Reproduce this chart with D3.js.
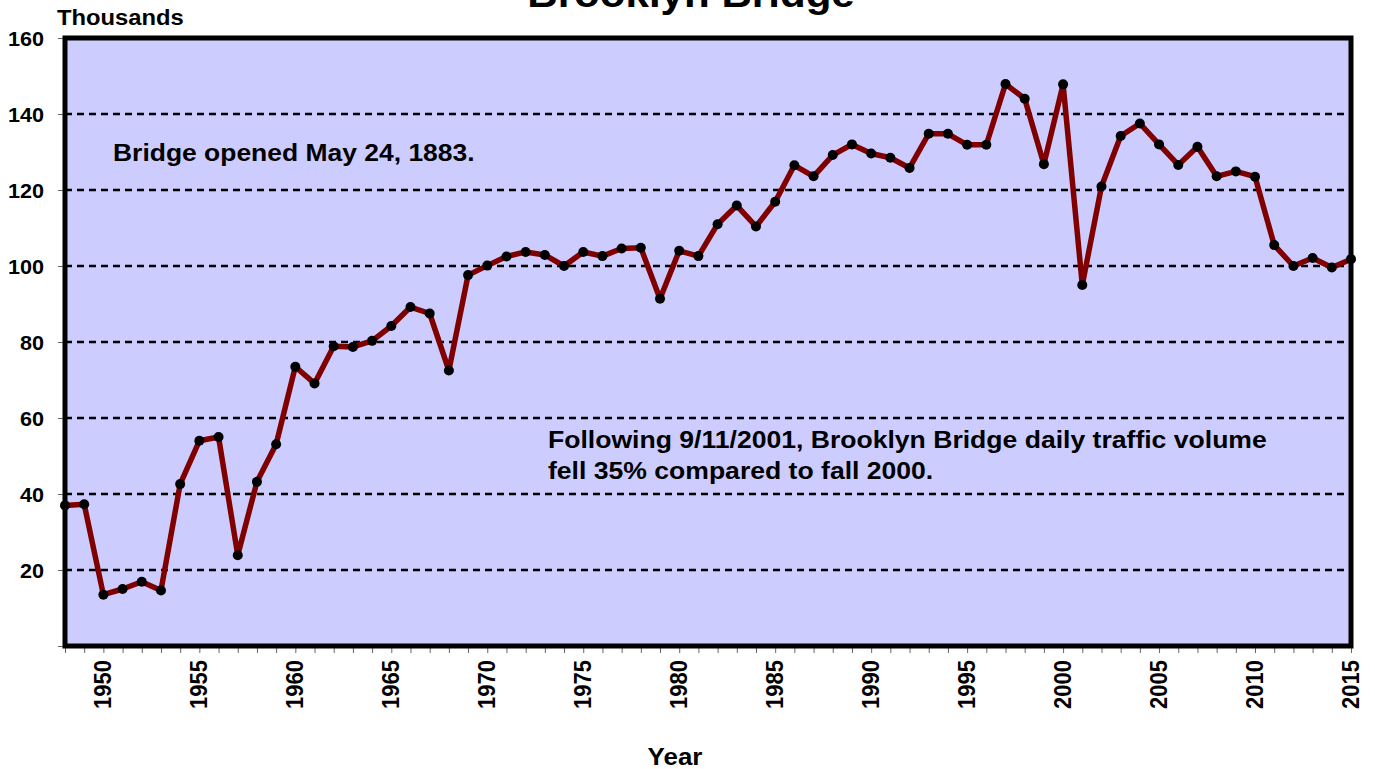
<!DOCTYPE html>
<html>
<head>
<meta charset="utf-8">
<script src="https://cdn.jsdelivr.net/npm/d3@7"></script>
<style>
  html, body { margin: 0; padding: 0; background: #ffffff; }
  svg { display: block; }
  text { font-family: "Liberation Sans", Arial, Helvetica, sans-serif; font-weight: bold; fill: #000; }
</style>
</head>
<body>
<div id="chart"></div>
<script>
// Brooklyn Bridge average daily traffic, in thousands of vehicles
const years = [
  1948, 1949, 1950, 1951, 1952, 1953, 1954, 1955, 1956, 1957,
  1958, 1959, 1960, 1961, 1962, 1963, 1964, 1965, 1966, 1967,
  1968, 1969, 1970, 1971, 1972, 1973, 1974, 1975, 1976, 1977,
  1978, 1979, 1980, 1981, 1982, 1983, 1984, 1985, 1986, 1987,
  1988, 1989, 1990, 1991, 1992, 1993, 1994, 1995, 1996, 1997,
  1998, 1999, 2000, 2001, 2002, 2003, 2004, 2005, 2006, 2007,
  2008, 2009, 2010, 2011, 2012, 2013, 2014, 2015
];
const traffic = [
  37.0, 37.3, 13.5, 15.0, 16.9, 14.6, 42.6, 54.0, 55.0, 23.9,
  43.2, 53.1, 73.5, 69.1, 78.9, 78.7, 80.3, 84.2, 89.2, 87.5,
  72.5, 97.6, 100.1, 102.5, 103.7, 102.9, 100.0, 103.7, 102.6, 104.6,
  104.8, 91.4, 104.0, 102.6, 111.0, 115.9, 110.4, 116.9, 126.5, 123.6,
  129.2, 132.0, 129.6, 128.5, 125.8, 134.8, 134.8, 131.9, 131.9, 147.9,
  144.0, 126.8, 147.8, 95.0, 120.9, 134.2, 137.5, 132.0, 126.6, 131.4,
  123.6, 124.9, 123.5, 105.5, 100.0, 102.1, 99.6, 101.8
];
const yTicks = [20, 40, 60, 80, 100, 120, 140, 160];
const xLabelYears = [1950, 1955, 1960, 1965, 1970, 1975, 1980, 1985, 1990, 1995, 2000, 2005, 2010, 2015];
const titleText = "Brooklyn Bridge";
const unitText = "Thousands";
const xTitle = "Year";
const noteOpened = "Bridge opened May 24, 1883.";
const noteSept11 = [
  "Following 9/11/2001, Brooklyn Bridge daily traffic volume",
  "fell 35% compared to fall 2000."
];

const W = 1375, H = 769;
const plot = { left: 65, right: 1351, top: 38, bottom: 646 };
const stretch = 1.08; // glyphs are drawn slightly wide

const svg = d3.select("#chart").append("svg")
  .attr("width", W).attr("height", H);

const x = d3.scaleLinear().domain([1948, 2015]).range([plot.left, plot.right]);
const y = d3.scaleLinear().domain([0, 160]).range([plot.bottom, plot.top]);

// helper for horizontally widened text
function label(g, str, px, py, size, anchor) {
  return g.append("text")
    .attr("transform", `translate(${px},${py}) scale(${stretch},1)`)
    .attr("text-anchor", anchor || "start")
    .style("font-size", size + "px")
    .text(str);
}

// plot background
svg.append("rect")
  .attr("x", plot.left).attr("y", plot.top)
  .attr("width", plot.right - plot.left).attr("height", plot.bottom - plot.top)
  .attr("fill", "#ccccff");

// dashed gridlines
svg.append("g").selectAll("line")
  .data(yTicks.filter(d => d < 160))
  .join("line")
  .attr("x1", plot.left).attr("x2", plot.right)
  .attr("y1", d => y(d)).attr("y2", d => y(d))
  .attr("stroke", "#000").attr("stroke-width", 2.5)
  .attr("stroke-dasharray", "7,5");

// y axis ticks and labels
const yAxis = d3.axisLeft(y).tickValues([0].concat(yTicks)).tickSize(7).tickFormat("");
const gy = svg.append("g").attr("transform", `translate(${plot.left},0)`).call(yAxis);
gy.select(".domain").remove();
gy.selectAll(".tick line").attr("stroke", "#666").attr("stroke-width", 1);
const gyl = svg.append("g");
yTicks.forEach(v => {
  label(gyl, String(v), 44, y(v) + 7.5, 20, "end");
});

// x axis ticks (every year) and rotated labels
const xAxis = d3.axisBottom(x).tickValues(years).tickSize(7).tickFormat("");
const gx = svg.append("g").attr("transform", `translate(0,${plot.bottom})`).call(xAxis);
gx.select(".domain").remove();
gx.selectAll(".tick line").attr("stroke", "#666").attr("stroke-width", 1);
svg.append("g").selectAll("text")
  .data(xLabelYears)
  .join("text")
  .attr("transform", d => `translate(${x(d) + 7.5},660) rotate(-90) scale(1,${stretch})`)
  .attr("text-anchor", "end")
  .style("font-size", "22px")
  .text(d => d);

// traffic line
const line = d3.line().x((d, i) => x(years[i])).y(d => y(d));
svg.append("path")
  .datum(traffic)
  .attr("d", line)
  .attr("fill", "none")
  .attr("stroke", "#800000")
  .attr("stroke-width", 5.5)
  .attr("stroke-linejoin", "round");

// markers
svg.append("g").selectAll("circle")
  .data(traffic)
  .join("circle")
  .attr("cx", (d, i) => x(years[i]))
  .attr("cy", d => y(d))
  .attr("r", 5)
  .attr("fill", "#000");

// plot frame
svg.append("rect")
  .attr("x", plot.left).attr("y", plot.top)
  .attr("width", plot.right - plot.left).attr("height", plot.bottom - plot.top)
  .attr("fill", "none").attr("stroke", "#000").attr("stroke-width", 5);

// titles and notes
const gt = svg.append("g");
label(gt, titleText, 691, 7, 39, "middle");
label(gt, unitText, 57, 25, 22, "start");
label(gt, xTitle, 675, 765, 24, "middle");
label(gt, noteOpened, 113, 161, 24.5, "start");
noteSept11.forEach((s, i) => label(gt, s, 548, 448 + i * 31, 24.6, "start"));
</script>
</body>
</html>
